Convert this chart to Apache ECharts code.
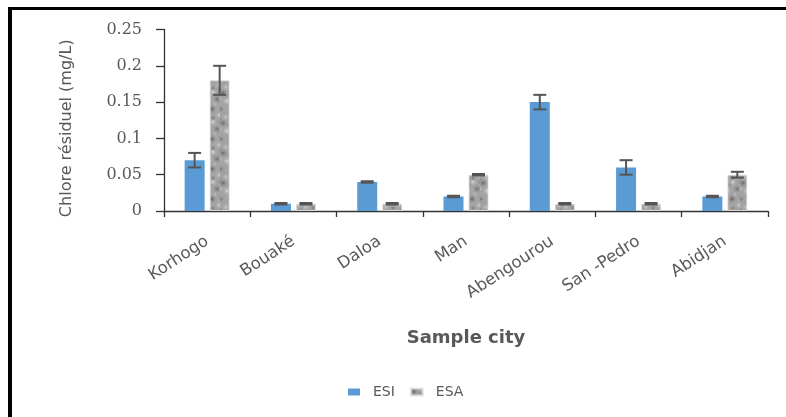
<!DOCTYPE html>
<html>
<head>
<meta charset="utf-8">
<script src="https://cdn.jsdelivr.net/npm/echarts@6/dist/echarts.min.js"></script>
<style>
html,body{margin:0;padding:0;background:#fff;}
#chart{width:786px;height:417px;}
</style>
</head>
<body>
<div id="chart"></div>
<script>
// ---- data ----
const categories = ['Korhogo', 'Bouaké', 'Daloa', 'Man', 'Abengourou', 'San -Pedro', 'Abidjan'];
const esiValues = [0.07, 0.01, 0.04, 0.02, 0.15, 0.06, 0.02];
const esaValues = [0.18, 0.01, 0.01, 0.05, 0.01, 0.01, 0.05];
const esiErrors = [0.01, 0.001, 0.001, 0.001, 0.01, 0.01, 0.001];
const esaErrors = [0.02, 0.001, 0.001, 0.001, 0.001, 0.001, 0.004];
const seriesNames = ['ESI', 'ESA'];
const yTicks = [0, 0.05, 0.1, 0.15, 0.2, 0.25];

// ---- mottled grey texture for ESA bars (style only, fixed blob list) ----
function makeTexture() {
  const c = document.createElement('canvas');
  c.width = 20; c.height = 30;
  const g = c.getContext('2d');
  g.fillStyle = '#a4a4a4';
  g.fillRect(0, 0, c.width, c.height);
  const blobs = [
    [3, 3, 5, 'rgba(95,95,95,0.9)'], [13, 2, 4, 'rgba(225,225,225,0.9)'],
    [17, 9, 5, 'rgba(105,105,105,0.9)'], [7, 11, 5, 'rgba(220,220,220,0.9)'],
    [1, 19, 4, 'rgba(110,110,110,0.9)'], [12, 19, 5, 'rgba(90,90,90,0.9)'],
    [19, 25, 4, 'rgba(215,215,215,0.9)'], [6, 27, 4, 'rgba(205,205,205,0.9)'],
    [15, 14, 3, 'rgba(200,200,200,0.8)'], [9, 5, 3, 'rgba(130,130,130,0.8)'],
    [20, 2, 3, 'rgba(120,120,120,0.8)'], [0, 9, 3, 'rgba(210,210,210,0.8)'],
    [13, 28, 3, 'rgba(100,100,100,0.8)'], [4, 23, 2, 'rgba(140,140,140,0.8)'],
    [20, 18, 3, 'rgba(150,150,150,0.8)'], [0, 30, 3, 'rgba(100,100,100,0.8)']
  ];
  blobs.forEach(b => {
    const rg = g.createRadialGradient(b[0], b[1], 0, b[0], b[1], b[2]);
    rg.addColorStop(0, b[3]);
    rg.addColorStop(1, 'rgba(164,164,164,0)');
    g.fillStyle = rg;
    g.beginPath(); g.arc(b[0], b[1], b[2], 0, Math.PI * 2); g.fill();
  });
  return c;
}
const esaPattern = { image: makeTexture(), repeat: 'repeat' };

const BAR_W = 20;
const HALF_OFFSET = 12.5; // (barWidth + gap)/2
const textColor = '#595959';

function errData(values, errs, side) {
  return values.map((v, i) => [i, v - errs[i], v + errs[i], side]);
}

function renderErr(params, api) {
  const idx = api.value(0);
  const lo = api.value(1), hi = api.value(2), side = api.value(3);
  const base = api.coord([idx, 0]);
  const x = base[0] + side * HALF_OFFSET;
  const yLo = api.coord([idx, lo])[1];
  const yHi = api.coord([idx, hi])[1];
  const h = 6.5;
  const st = { stroke: '#555555', lineWidth: 2 };
  return {
    type: 'group',
    children: [
      { type: 'line', shape: { x1: x, y1: yLo, x2: x, y2: yHi }, style: st },
      { type: 'line', shape: { x1: x - h, y1: yLo, x2: x + h, y2: yLo }, style: st },
      { type: 'line', shape: { x1: x - h, y1: yHi, x2: x + h, y2: yHi }, style: st }
    ]
  };
}

const chart = echarts.init(document.getElementById('chart'), null, { renderer: 'canvas' });
chart.setOption({
  animation: false,
  backgroundColor: '#ffffff',
  graphic: [
    { type: 'line', shape: { x1: 8, y1: 8.5, x2: 800, y2: 8.5 }, style: { stroke: '#000', lineWidth: 3 }, silent: true },
    { type: 'line', shape: { x1: 10, y1: 7, x2: 10, y2: 420 }, style: { stroke: '#000', lineWidth: 4 }, silent: true }
  ],
  legend: {
    data: seriesNames,
    left: 343,
    top: 380,
    icon: 'rect',
    itemWidth: 12,
    itemHeight: 7,
    itemGap: 15,
    textStyle: { color: textColor, fontSize: 14, fontFamily: 'DejaVu Sans', padding: [0, 0, 0, 8] }
  },
  grid: { left: 164, right: 18, top: 29.5, bottom: 206 },
  xAxis: {
    type: 'category',
    data: categories,
    name: 'Sample city',
    nameLocation: 'middle',
    nameGap: 118,
    nameTextStyle: { color: textColor, fontSize: 18, fontWeight: 'bold', fontFamily: 'DejaVu Sans' },
    axisLine: { lineStyle: { color: '#333333', width: 1.3 } },
    axisTick: { show: true, length: 6, lineStyle: { color: '#333333', width: 1.3 } },
    axisLabel: { rotate: 33, margin: 29, color: textColor, fontSize: 16.5, fontFamily: 'DejaVu Sans', interval: 0 }
  },
  yAxis: {
    type: 'value',
    min: yTicks[0],
    max: yTicks[yTicks.length - 1],
    interval: yTicks[1] - yTicks[0],
    name: 'Chlore résiduel (mg/L)',
    nameLocation: 'middle',
    nameGap: 89,
    nameTextStyle: { color: textColor, fontSize: 16, fontFamily: 'DejaVu Sans', padding: [0, 16, 0, 0] },
    axisLine: { show: true, lineStyle: { color: '#333333', width: 1.3 } },
    axisTick: { show: true, length: 8, lineStyle: { color: '#333333', width: 1.3 } },
    splitLine: { show: false },
    axisLabel: { margin: 22, color: textColor, fontSize: 16, fontFamily: 'DejaVu Serif' }
  },
  series: [
    {
      name: seriesNames[0], type: 'bar', data: esiValues,
      barWidth: BAR_W, barGap: '25%',
      itemStyle: { color: '#5B9BD5' }
    },
    {
      name: seriesNames[1], type: 'bar', data: esaValues,
      barWidth: BAR_W, barGap: '25%',
      itemStyle: { color: esaPattern, borderColor: 'rgba(225,225,225,0.8)', borderWidth: 1 }
    },
    {
      name: 'errESI', type: 'custom', renderItem: renderErr,
      data: errData(esiValues, esiErrors, -1),
      encode: { x: 0, y: [1, 2] }, z: 5, silent: true
    },
    {
      name: 'errESA', type: 'custom', renderItem: renderErr,
      data: errData(esaValues, esaErrors, 1),
      encode: { x: 0, y: [1, 2] }, z: 5, silent: true
    }
  ]
});
</script>
</body>
</html>
